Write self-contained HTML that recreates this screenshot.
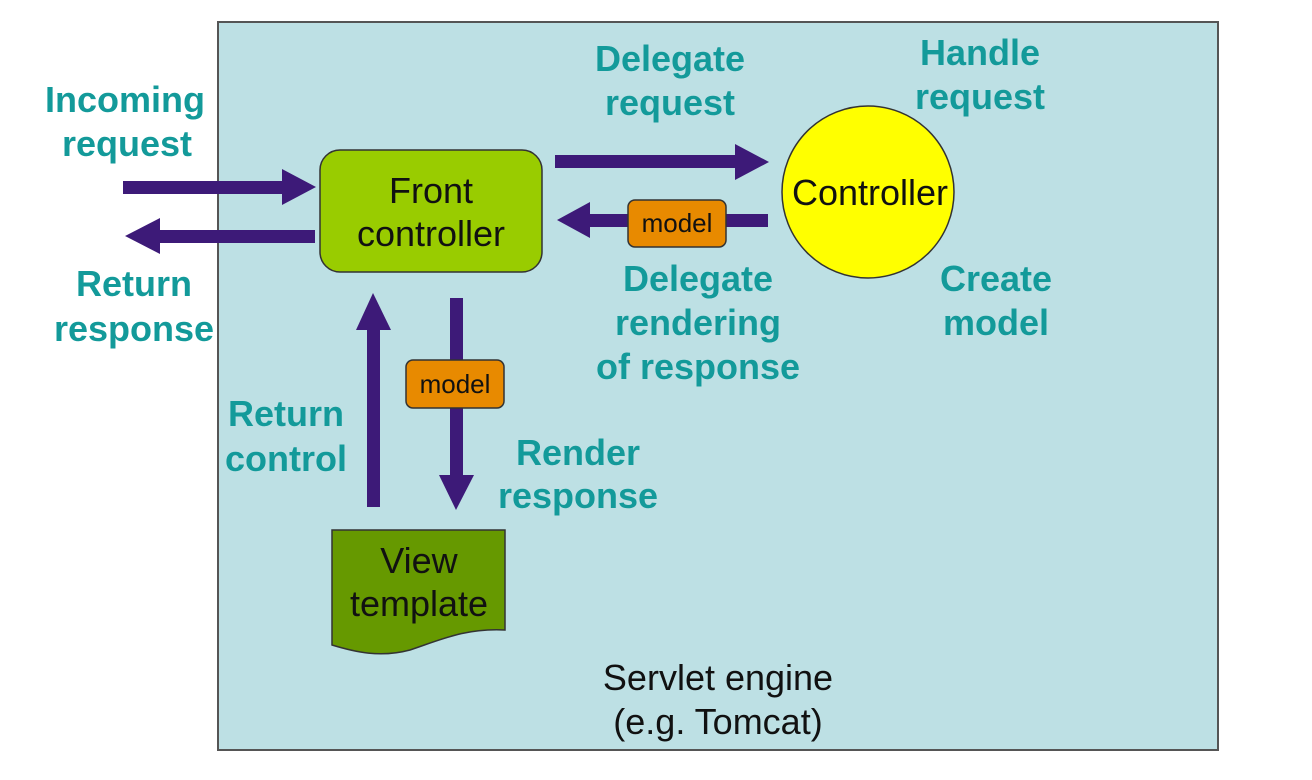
<!DOCTYPE html>
<html><head><meta charset="utf-8"><style>
html,body{margin:0;padding:0;background:#fff;}
svg{display:block;}
.t{font-family:"Liberation Sans",sans-serif;font-weight:bold;font-size:36px;fill:#139a9a;text-anchor:middle;}
.n{font-family:"Liberation Sans",sans-serif;font-size:36px;fill:#111;text-anchor:middle;}
.m{font-family:"Liberation Sans",sans-serif;font-size:26px;fill:#111;text-anchor:middle;}
</style></head><body>
<svg width="1312" height="780" viewBox="0 0 1312 780">
<rect x="218" y="22" width="1000" height="728" fill="#bde0e4" stroke="#555" stroke-width="2"/>
<g fill="#3d1a78">
<rect x="123" y="181" width="165" height="13"/><polygon points="282,169 316,187 282,205"/>
<rect x="155" y="230" width="160" height="13"/><polygon points="160,218 125,236 160,254"/>
<rect x="555" y="155" width="185" height="13"/><polygon points="735,144 769,162 735,180"/>
<rect x="585" y="214" width="183" height="13"/><polygon points="590,202 557,220 590,238"/>
<rect x="367" y="325" width="13" height="182"/><polygon points="356,330 373,293 391,330"/>
<rect x="450" y="298" width="13" height="180"/><polygon points="439,475 456,510 474,475"/>
</g>
<rect x="320" y="150" width="222" height="122" rx="20" fill="#99cc00" stroke="#333" stroke-width="1.5"/>
<text class="n" x="431" y="203">Front</text>
<text class="n" x="431" y="246">controller</text>
<circle cx="868" cy="192" r="86" fill="#ffff00" stroke="#333" stroke-width="1.5"/>
<text class="n" x="870" y="205">Controller</text>
<rect x="628" y="200" width="98" height="47" rx="7" fill="#e88a00" stroke="#333" stroke-width="1.5"/>
<text class="m" x="677" y="232">model</text>
<rect x="406" y="360" width="98" height="48" rx="7" fill="#e88a00" stroke="#333" stroke-width="1.5"/>
<text class="m" x="455" y="393">model</text>
<path d="M332,530 L505,530 L505,630 C465,628 440,640 410,650 C380,658 355,652 332,645 Z" fill="#669900" stroke="#333" stroke-width="1.5"/>
<text class="n" x="419" y="573">View</text>
<text class="n" x="419" y="616">template</text>
<text class="t" x="125" y="112">Incoming</text>
<text class="t" x="127" y="156">request</text>
<text class="t" x="134" y="296">Return</text>
<text class="t" x="134" y="341">response</text>
<text class="t" x="670" y="71">Delegate</text>
<text class="t" x="670" y="115">request</text>
<text class="t" x="980" y="65">Handle</text>
<text class="t" x="980" y="109">request</text>
<text class="t" x="698" y="291">Delegate</text>
<text class="t" x="698" y="335">rendering</text>
<text class="t" x="698" y="379">of response</text>
<text class="t" x="996" y="291">Create</text>
<text class="t" x="996" y="335">model</text>
<text class="t" x="286" y="426">Return</text>
<text class="t" x="286" y="471">control</text>
<text class="t" x="578" y="465">Render</text>
<text class="t" x="578" y="508">response</text>
<text class="n" x="718" y="690">Servlet engine</text>
<text class="n" x="718" y="734">(e.g. Tomcat)</text>
</svg>
</body></html>
